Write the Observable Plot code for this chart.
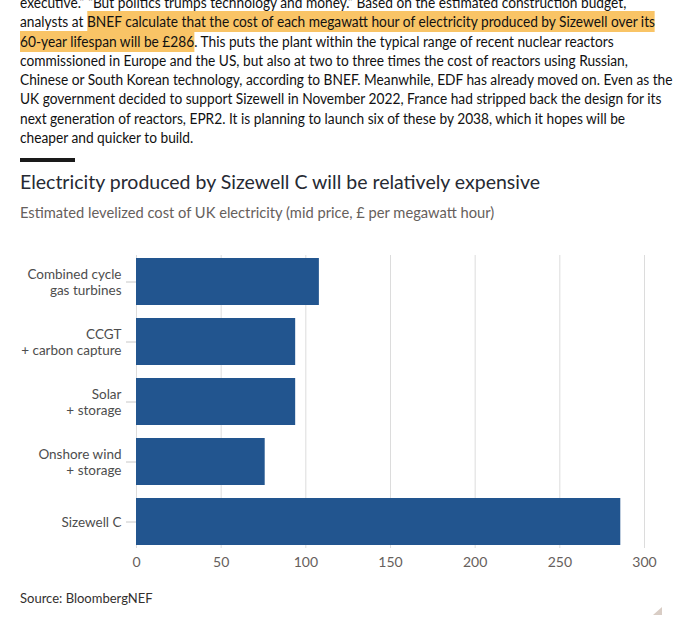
<!DOCTYPE html>
<html>
<head>
<meta charset="utf-8">
<script src="https://cdn.jsdelivr.net/npm/d3@7"></script>
<script src="https://cdn.jsdelivr.net/npm/@observablehq/plot@0.6"></script>
<style>
  html, body { margin: 0; padding: 0; background: #fff; width: 680px; height: 620px; overflow: hidden; }
  body { position: relative; }
  .para { position: absolute; left: 20px; top: -7px; font-family: Lato, "Open Sans", sans-serif; font-size: 15.5px; line-height: 19.3px; color: #111; transform-origin: 0 0; }
  .para div { white-space: nowrap; width: max-content; }
  .hl { background: #f9c466; padding: 1px 0 2px 0; }
  .rule { position: absolute; left: 20px; top: 158px; width: 55px; height: 4px; background: #1a1a1a; }
  .title { position: absolute; left: 20px; top: 170px; font-family: Lato, sans-serif; font-size: 19.5px; line-height: 24px; color: #262a33; white-space: nowrap; }
  .subtitle { position: absolute; left: 20px; top: 202px; font-family: Lato, sans-serif; font-size: 14.7px; line-height: 20px; color: #66605c; white-space: nowrap; }
  #chart { position: absolute; left: 0; top: 240px; }
  .source { position: absolute; left: 20px; top: 589px; font-family: Lato, sans-serif; font-size: 13px; line-height: 18px; color: #33302e; white-space: nowrap; }
  .grip { position: absolute; left: 653px; top: 607px; width: 0; height: 0; border-left: 9px solid transparent; border-bottom: 8px solid #d9cdc5; }
</style>
</head>
<body>
<div class="para" id="para">
  <div>executive.” “But politics trumps technology and money.” Based on the estimated construction budget,</div>
  <div id="refline">analysts at <span class="hl">BNEF calculate that the cost of each megawatt hour of electricity produced by Sizewell over its</span></div>
  <div><span class="hl">60-year lifespan will be £286</span>. This puts the plant within the typical range of recent nuclear reactors</div>
  <div>commissioned in Europe and the US, but also at two to three times the cost of reactors using Russian,</div>
  <div>Chinese or South Korean technology, according to BNEF. Meanwhile, EDF has already moved on. Even as the</div>
  <div>UK government decided to support Sizewell in November 2022, France had stripped back the design for its</div>
  <div>next generation of reactors, EPR2. It is planning to launch six of these by 2038, which it hopes will be</div>
  <div>cheaper and quicker to build.</div>
</div>
<div class="rule"></div>
<div class="title">Electricity produced by Sizewell C will be relatively expensive</div>
<div class="subtitle">Estimated levelized cost of UK electricity (mid price, £ per megawatt hour)</div>
<div id="chart"></div>
<div class="source">Source: BloombergNEF</div>
<div class="grip"></div>
<script>
// fit the article paragraph to the reference line width (Calibri-like narrow text)
(function () {
  const line = document.getElementById("refline");
  const w = line.getBoundingClientRect().width;
  const s = 635 / w;
  document.getElementById("para").style.transform = `scaleX(${s})`;
})();

const categories = ["Combined cycle\ngas turbines", "CCGT\n+ carbon capture", "Solar\n+ storage", "Onshore wind\n+ storage", "Sizewell C"];
const values = [108, 94, 94, 76, 286];
const xTicks = [0, 50, 100, 150, 200, 250, 300];

const data = categories.map((c, i) => ({category: c, value: values[i]}));

const chart = Plot.plot({
  width: 680,
  height: 340,
  marginTop: 15,
  marginBottom: 32,
  marginLeft: 136,
  marginRight: 36,
  style: {fontFamily: "Lato, sans-serif", background: "transparent"},
  x: {domain: [0, 300]},
  y: {domain: categories, paddingInner: 0.22, paddingOuter: 0.04},
  marks: [
    Plot.gridX(xTicks, {stroke: "#dcdcdc", strokeOpacity: 1}),
    Plot.barX(data, {y: "category", x: "value", fill: "#22558f"}),
    Plot.axisX({ticks: xTicks, tickSize: 0, tickPadding: 9, fontSize: 14, fill: "#66605c", label: null}),
    Plot.axisY({tickSize: 10, tickPadding: 5, fontSize: 13.5, lineHeight: 1.15, stroke: "#c8c8c8", fill: "#4d4d4d", label: null})
  ]
});
document.getElementById("chart").appendChild(chart);
</script>
</body>
</html>
